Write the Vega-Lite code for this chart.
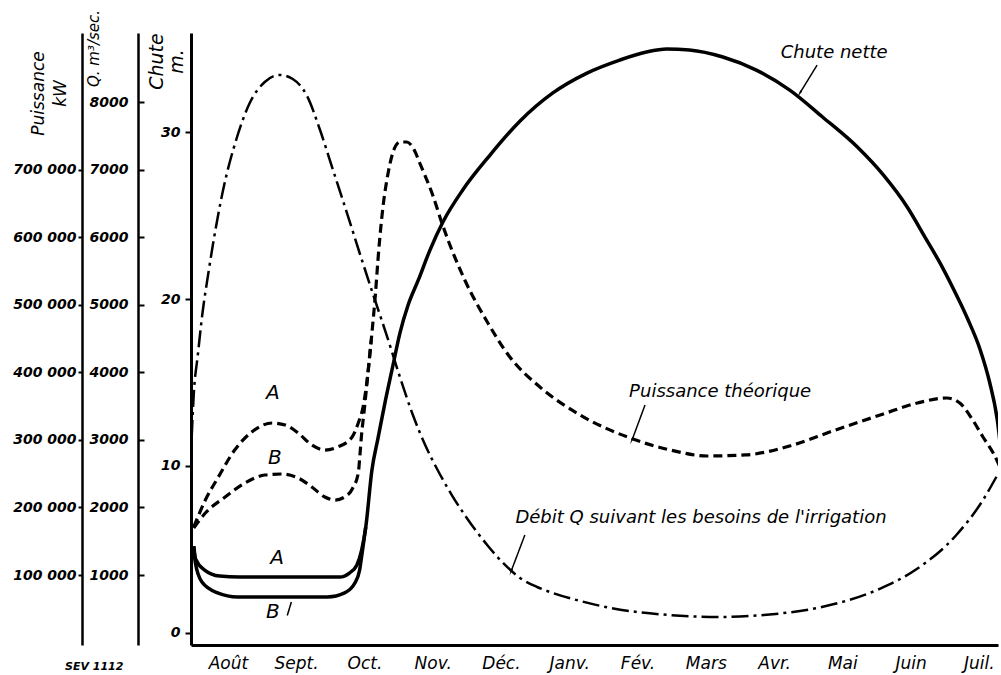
{
  "$schema": "https://vega.github.io/schema/vega-lite/v6.json",
  "width": 807,
  "height": 612,
  "autosize": {"type": "none"},
  "padding": {"left": 191, "top": 33, "right": 3, "bottom": 30},
  "background": "white",
  "config": {
    "view": {"stroke": null},
    "axis": {
      "grid": false,
      "domainColor": "black",
      "tickColor": "black",
      "labelColor": "black",
      "titleColor": "black",
      "labelFont": "DejaVu Sans",
      "titleFont": "DejaVu Sans",
      "labelFontStyle": "italic",
      "titleFontStyle": "italic",
      "titleFontWeight": "normal",
      "labelFontWeight": "bold",
      "labelFontSize": 14
    },
    "text": {"font": "DejaVu Sans", "fontStyle": "italic", "color": "black"}
  },
  "title": {
    "text": "SEV 1112",
    "orient": "bottom",
    "anchor": "start",
    "frame": "group",
    "dx": -126,
    "offset": -10,
    "font": "DejaVu Sans",
    "fontSize": 11,
    "fontStyle": "italic",
    "fontWeight": "bold",
    "color": "black"
  },
  "datasets": {
    "chute": [
      {"serie": "A", "m": 0, "chute": 5.2},
      {"serie": "A", "m": 0.03, "chute": 4.4},
      {"serie": "A", "m": 0.16, "chute": 3.77},
      {"serie": "A", "m": 0.38, "chute": 3.41},
      {"serie": "A", "m": 0.67, "chute": 3.35},
      {"serie": "A", "m": 1.5, "chute": 3.35},
      {"serie": "A", "m": 2.14, "chute": 3.35},
      {"serie": "A", "m": 2.28, "chute": 3.59},
      {"serie": "A", "m": 2.39, "chute": 4.07},
      {"serie": "A", "m": 2.46, "chute": 4.97},
      {"serie": "A", "m": 2.52, "chute": 6.35},
      {"serie": "A", "m": 2.61, "chute": 9.76},
      {"serie": "A", "m": 2.7, "chute": 11.68},
      {"serie": "A", "m": 2.8, "chute": 13.77},
      {"serie": "A", "m": 2.91, "chute": 15.87},
      {"serie": "A", "m": 3.02, "chute": 17.96},
      {"serie": "A", "m": 3.14, "chute": 19.64},
      {"serie": "A", "m": 3.29, "chute": 21.14},
      {"serie": "A", "m": 3.46, "chute": 22.93},
      {"serie": "A", "m": 3.65, "chute": 24.61},
      {"serie": "A", "m": 3.94, "chute": 26.53},
      {"serie": "A", "m": 4.34, "chute": 28.62},
      {"serie": "A", "m": 4.78, "chute": 30.66},
      {"serie": "A", "m": 5.26, "chute": 32.34},
      {"serie": "A", "m": 5.76, "chute": 33.53},
      {"serie": "A", "m": 6.24, "chute": 34.31},
      {"serie": "A", "m": 6.63, "chute": 34.79},
      {"serie": "A", "m": 6.93, "chute": 34.97},
      {"serie": "A", "m": 7.26, "chute": 34.91},
      {"serie": "A", "m": 7.75, "chute": 34.49},
      {"serie": "A", "m": 8.24, "chute": 33.71},
      {"serie": "A", "m": 8.73, "chute": 32.51},
      {"serie": "A", "m": 9.21, "chute": 30.9},
      {"serie": "A", "m": 9.72, "chute": 29.1},
      {"serie": "A", "m": 10.1, "chute": 27.43},
      {"serie": "A", "m": 10.45, "chute": 25.51},
      {"serie": "A", "m": 10.71, "chute": 23.71},
      {"serie": "A", "m": 10.93, "chute": 22.16},
      {"serie": "A", "m": 11.12, "chute": 20.66},
      {"serie": "A", "m": 11.33, "chute": 18.86},
      {"serie": "A", "m": 11.52, "chute": 16.95},
      {"serie": "A", "m": 11.66, "chute": 14.97},
      {"serie": "A", "m": 11.77, "chute": 12.75},
      {"serie": "A", "m": 11.83, "chute": 10.66},
      {"serie": "B", "m": 0, "chute": 5.2},
      {"serie": "B", "m": 0.02, "chute": 4.3},
      {"serie": "B", "m": 0.12, "chute": 3.05},
      {"serie": "B", "m": 0.35, "chute": 2.4},
      {"serie": "B", "m": 0.64, "chute": 2.16},
      {"serie": "B", "m": 1.5, "chute": 2.16},
      {"serie": "B", "m": 1.96, "chute": 2.16},
      {"serie": "B", "m": 2.21, "chute": 2.4},
      {"serie": "B", "m": 2.36, "chute": 2.99},
      {"serie": "B", "m": 2.43, "chute": 3.77},
      {"serie": "B", "m": 2.47, "chute": 4.9},
      {"serie": "B", "m": 2.52, "chute": 6.35}
    ],
    "debit": [
      {"m": -0.03, "q": 3043},
      {"m": 0.0, "q": 3665},
      {"m": 0.06, "q": 4257},
      {"m": 0.13, "q": 4893},
      {"m": 0.21, "q": 5440},
      {"m": 0.28, "q": 5884},
      {"m": 0.43, "q": 6698},
      {"m": 0.63, "q": 7468},
      {"m": 0.82, "q": 7986},
      {"m": 1.04, "q": 8297},
      {"m": 1.26, "q": 8400},
      {"m": 1.45, "q": 8341},
      {"m": 1.66, "q": 8089},
      {"m": 1.85, "q": 7586},
      {"m": 2.04, "q": 6994},
      {"m": 2.24, "q": 6372},
      {"m": 2.43, "q": 5766},
      {"m": 2.62, "q": 5174},
      {"m": 2.83, "q": 4537},
      {"m": 3.02, "q": 3931},
      {"m": 3.21, "q": 3368},
      {"m": 3.39, "q": 2924},
      {"m": 3.58, "q": 2540},
      {"m": 3.78, "q": 2184},
      {"m": 3.97, "q": 1888},
      {"m": 4.31, "q": 1430},
      {"m": 4.56, "q": 1149},
      {"m": 4.78, "q": 956},
      {"m": 5.03, "q": 823},
      {"m": 5.26, "q": 734},
      {"m": 5.66, "q": 616},
      {"m": 6.11, "q": 512},
      {"m": 6.95, "q": 409},
      {"m": 7.68, "q": 379},
      {"m": 8.35, "q": 409},
      {"m": 9.2, "q": 527},
      {"m": 10.04, "q": 793},
      {"m": 10.59, "q": 1089},
      {"m": 11.17, "q": 1592},
      {"m": 11.56, "q": 2110},
      {"m": 11.78, "q": 2495},
      {"m": 11.88, "q": 2673}
    ],
    "puissance": [
      {"serie": "A", "m": 0, "kw": 171000},
      {"serie": "A", "m": 0.17, "kw": 211000},
      {"serie": "A", "m": 0.36, "kw": 245000},
      {"serie": "A", "m": 0.6, "kw": 285000},
      {"serie": "A", "m": 0.85, "kw": 311700},
      {"serie": "A", "m": 1.15, "kw": 325000},
      {"serie": "A", "m": 1.34, "kw": 322000},
      {"serie": "A", "m": 1.53, "kw": 310200},
      {"serie": "A", "m": 1.73, "kw": 292400},
      {"serie": "A", "m": 1.92, "kw": 285000},
      {"serie": "A", "m": 2.11, "kw": 289500},
      {"serie": "A", "m": 2.32, "kw": 304300},
      {"serie": "A", "m": 2.41, "kw": 325000},
      {"serie": "A", "m": 2.48, "kw": 348700},
      {"serie": "A", "m": 2.54, "kw": 388600},
      {"serie": "A", "m": 2.6, "kw": 447800},
      {"serie": "A", "m": 2.66, "kw": 514400},
      {"serie": "A", "m": 2.71, "kw": 581000},
      {"serie": "A", "m": 2.77, "kw": 643200},
      {"serie": "A", "m": 2.85, "kw": 696500},
      {"serie": "A", "m": 2.93, "kw": 729000},
      {"serie": "A", "m": 3.02, "kw": 740900},
      {"serie": "A", "m": 3.12, "kw": 740900},
      {"serie": "A", "m": 3.23, "kw": 729000},
      {"serie": "A", "m": 3.31, "kw": 709800},
      {"serie": "A", "m": 3.5, "kw": 662400},
      {"serie": "A", "m": 3.65, "kw": 616500},
      {"serie": "A", "m": 3.97, "kw": 536600},
      {"serie": "A", "m": 4.3, "kw": 474500},
      {"serie": "A", "m": 4.63, "kw": 422700},
      {"serie": "A", "m": 5.07, "kw": 378300},
      {"serie": "A", "m": 5.66, "kw": 336800},
      {"serie": "A", "m": 6.39, "kw": 302800},
      {"serie": "A", "m": 6.98, "kw": 285000},
      {"serie": "A", "m": 7.52, "kw": 276200},
      {"serie": "A", "m": 8.08, "kw": 277700},
      {"serie": "A", "m": 8.73, "kw": 291000},
      {"serie": "A", "m": 9.36, "kw": 313200},
      {"serie": "A", "m": 10.1, "kw": 338400},
      {"serie": "A", "m": 10.6, "kw": 354700},
      {"serie": "A", "m": 11.03, "kw": 362000},
      {"serie": "A", "m": 11.22, "kw": 354600},
      {"serie": "A", "m": 11.41, "kw": 329400},
      {"serie": "A", "m": 11.56, "kw": 304300},
      {"serie": "A", "m": 11.71, "kw": 280600},
      {"serie": "A", "m": 11.81, "kw": 259900},
      {"serie": "B", "m": 0, "kw": 169600},
      {"serie": "B", "m": 0.17, "kw": 191800},
      {"serie": "B", "m": 0.46, "kw": 215500},
      {"serie": "B", "m": 0.75, "kw": 236200},
      {"serie": "B", "m": 1.04, "kw": 248000},
      {"serie": "B", "m": 1.29, "kw": 249500},
      {"serie": "B", "m": 1.53, "kw": 243600},
      {"serie": "B", "m": 1.73, "kw": 230300},
      {"serie": "B", "m": 1.92, "kw": 215500},
      {"serie": "B", "m": 2.07, "kw": 211000},
      {"serie": "B", "m": 2.21, "kw": 215500},
      {"serie": "B", "m": 2.33, "kw": 228800},
      {"serie": "B", "m": 2.41, "kw": 251000},
      {"serie": "B", "m": 2.44, "kw": 285000},
      {"serie": "B", "m": 2.46, "kw": 310000},
      {"serie": "B", "m": 2.49, "kw": 337000},
      {"serie": "B", "m": 2.52, "kw": 366400},
      {"serie": "B", "m": 2.57, "kw": 418000},
      {"serie": "B", "m": 2.6, "kw": 447800}
    ],
    "notes": [
      {"label": "Chute nette", "m": 9.38, "chute": 34.73},
      {"label": "Puissance théorique", "m": 7.71, "chute": 14.43},
      {"label": "Débit Q suivant les besoins de l'irrigation", "m": 7.43, "chute": 6.89}
    ],
    "letters": [
      {"label": "A", "m": 1.16, "chute": 14.37},
      {"label": "B", "m": 1.19, "chute": 10.48},
      {"label": "A", "m": 1.22, "chute": 4.49},
      {"label": "B", "m": 1.16, "chute": 1.26}
    ],
    "arrows": [
      {"id": "chute", "m": 9.13, "chute": 34.01, "m2": 8.88, "chute2": 32.34},
      {"id": "puissance", "m": 6.61, "chute": 13.65, "m2": 6.42, "chute2": 11.56},
      {"id": "debit", "m": 4.85, "chute": 5.87, "m2": 4.65, "chute2": 3.71},
      {"id": "b", "m": 1.43, "chute": 1.85, "m2": 1.37, "chute2": 1.05}
    ]
  },
  "layer": [
    {
      "layer": [
        {
          "data": {"name": "chute"},
          "mark": {"type": "line", "clip": true, "color": "black", "strokeWidth": 3.5, "interpolate": "monotone"},
          "encoding": {
            "x": {
              "field": "m", "type": "quantitative",
              "scale": {"domain": [-0.04, 11.78], "nice": false, "zero": false},
              "axis": {
                "title": null,
                "values": [0.5, 1, 1.5, 2, 2.5, 3, 3.5, 4, 4.5, 5, 5.5, 6, 6.5, 7, 7.5, 8, 8.5, 9, 9.5, 10, 10.5, 11, 11.5],
                "tickSize": -7,
                "tickWidth": 2,
                "tickOpacity": {"condition": {"test": "datum.value % 1 === 0", "value": 1}, "value": 0},
                "domainWidth": 3,
                "labelExpr": "datum.value % 1 === 0 ? '' : ['Août','Sept.','Oct.','Nov.','Déc.','Janv.','Fév.','Mars','Avr.','Mai','Juin','Juil.'][floor(datum.value)]",
                "labelFontSize": 17,
                "labelFontWeight": "normal",
                "labelPadding": 17,
                "labelOverlap": false,
                "labelFlush": false,
                "labelBound": false
              }
            },
            "y": {
              "field": "chute", "type": "quantitative",
              "scale": {"domain": [-0.72, 35.93], "nice": false, "zero": false},
              "axis": {
                "orient": "left",
                "offset": 0,
                "title": ["Chute", "m."],
                "titleAngle": -90,
                "titleAlign": "center",
                "titleBaseline": "top",
                "titleX": -44,
                "titleY": 28,
                "titleFontSize": 19,
                "titleLineHeight": 20,
                "values": [0, 10, 20, 30],
                "tickSize": 6,
                "tickWidth": 2,
                "domainWidth": 3,
                "labelPadding": 5
              }
            },
            "detail": {"field": "serie"}
          }
        },
        {
          "data": {"name": "notes"},
          "mark": {"type": "text", "fontSize": 18, "align": "center", "baseline": "middle"},
          "encoding": {
            "x": {"field": "m", "type": "quantitative"},
            "y": {"field": "chute", "type": "quantitative"},
            "text": {"field": "label"}
          }
        },
        {
          "data": {"name": "letters"},
          "mark": {"type": "text", "fontSize": 20, "align": "center", "baseline": "middle"},
          "encoding": {
            "x": {"field": "m", "type": "quantitative"},
            "y": {"field": "chute", "type": "quantitative"},
            "text": {"field": "label"}
          }
        },
        {
          "data": {"name": "arrows"},
          "mark": {"type": "rule", "color": "black", "strokeWidth": 1.5},
          "encoding": {
            "x": {"field": "m", "type": "quantitative"},
            "y": {"field": "chute", "type": "quantitative"},
            "x2": {"field": "m2"},
            "y2": {"field": "chute2"}
          }
        },
        {
          "data": {"name": "arrows"},
          "transform": [{"filter": "datum.id !== 'b'"}],
          "mark": {"type": "point", "shape": "wedge", "filled": true, "color": "black", "size": 70, "opacity": 1},
          "encoding": {
            "x": {"field": "m2", "type": "quantitative"},
            "y": {"field": "chute2", "type": "quantitative"},
            "angle": {
              "field": "id", "type": "nominal",
              "scale": {"domain": ["chute", "puissance", "debit"], "range": [211, 200, 201]},
              "legend": null
            }
          }
        }
      ]
    },
    {
      "data": {"name": "debit"},
      "mark": {"type": "line", "clip": true, "color": "black", "strokeWidth": 2.5, "strokeDash": [17, 5, 3, 5], "interpolate": "monotone"},
      "encoding": {
        "x": {"field": "m", "type": "quantitative", "scale": {"domain": [-0.04, 11.78], "nice": false, "zero": false}},
        "y": {
          "field": "q", "type": "quantitative",
          "scale": {"domain": [-35.5, 9022], "nice": false, "zero": false},
          "axis": {
            "orient": "left",
            "offset": 53,
            "title": "Q. m³/sec.",
            "titleAngle": -90,
            "titleAlign": "center",
            "titleBaseline": "top",
            "titleX": -52,
            "titleY": 15,
            "titleFontSize": 15,
            "values": [1000, 2000, 3000, 4000, 5000, 6000, 7000, 8000],
            "format": "d",
            "tickSize": -6,
            "tickWidth": 2,
            "domainWidth": 2.5,
            "labelPadding": 16
          }
        }
      }
    },
    {
      "data": {"name": "puissance"},
      "mark": {"type": "line", "clip": true, "color": "black", "strokeWidth": 3.2, "strokeDash": [9, 5], "interpolate": "monotone"},
      "encoding": {
        "x": {"field": "m", "type": "quantitative", "scale": {"domain": [-0.04, 11.78], "nice": false, "zero": false}},
        "y": {
          "field": "kw", "type": "quantitative",
          "scale": {"domain": [-3550, 902200], "nice": false, "zero": false},
          "axis": {
            "orient": "left",
            "offset": 109,
            "title": ["Puissance", "kW"],
            "titleAngle": -90,
            "titleAlign": "center",
            "titleBaseline": "top",
            "titleX": -52,
            "titleY": 60,
            "titleFontSize": 17,
            "titleLineHeight": 22,
            "values": [100000, 200000, 300000, 400000, 500000, 600000, 700000],
            "labelExpr": "replace(format(datum.value, ',d'), ',', ' ')",
            "tickSize": 4,
            "tickWidth": 2,
            "domainWidth": 2.5,
            "labelPadding": 2
          }
        },
        "detail": {"field": "serie"}
      }
    }
  ],
  "resolve": {"scale": {"y": "independent"}}
}
